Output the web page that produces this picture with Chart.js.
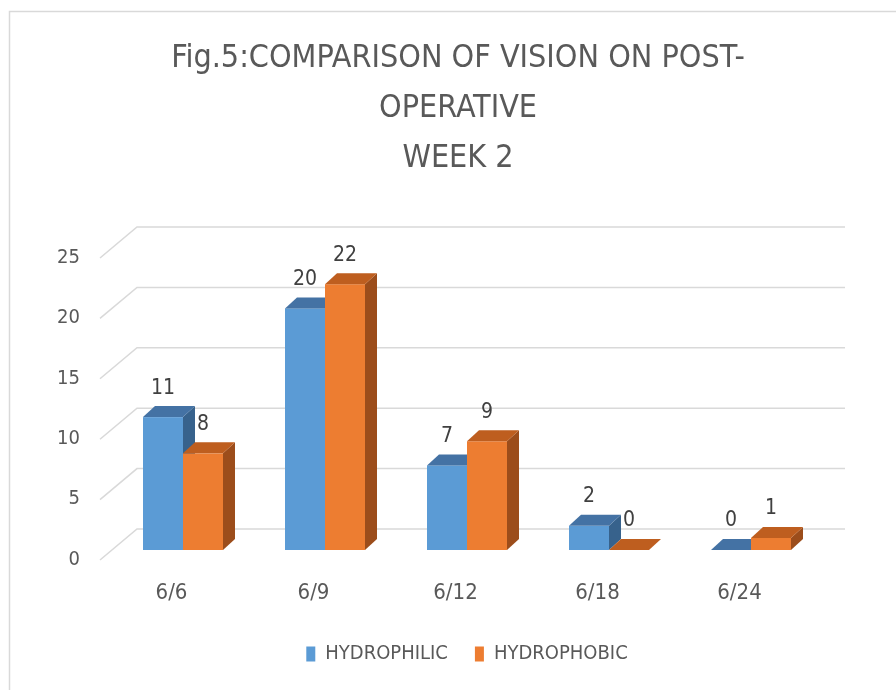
<!DOCTYPE html>
<html>
<head>
<meta charset="utf-8">
<script src="https://cdn.jsdelivr.net/npm/chart.js@4.4.0/dist/chart.umd.min.js"></script>
<style>
html,body{margin:0;padding:0;background:#fff;}
#wrap{width:896px;height:690px;position:relative;}
</style>
</head>
<body>
<div id="wrap"><canvas id="c" width="896" height="690"></canvas></div>
<script>
// ---- data ----
const categories = ['6/6', '6/9', '6/12', '6/18', '6/24'];
const hydrophilic = [11, 20, 7, 2, 0];
const hydrophobic = [8, 22, 9, 0, 1];
const seriesNames = ['HYDROPHILIC', 'HYDROPHOBIC'];
const titleLines = ['Fig.5:COMPARISON OF VISION ON POST-', 'OPERATIVE', 'WEEK 2'];
const yMin = 0, yMax = 25, yStep = 5;

// ---- style ----
const FONT = "'Liberation Sans Narrow', 'Arial Narrow', 'DejaVu Sans Condensed', sans-serif";
const TXT = '#595959';
const DX = 12, DY = -11;
const faces = [
  {front: '#5B9BD5', top: '#4472A4', side: '#37628C'},
  {front: '#ED7D31', top: '#BE5E1F', side: '#9C4D1B'}
];

function poly(ctx, pts, color) {
  ctx.beginPath();
  ctx.moveTo(pts[0][0], pts[0][1]);
  for (let i = 1; i < pts.length; i++) ctx.lineTo(pts[i][0], pts[i][1]);
  ctx.closePath();
  ctx.fillStyle = color;
  ctx.fill();
}

const bar3d = {
  id: 'bar3d',
  beforeDraw(chart) {
    const ctx = chart.ctx;
    ctx.save();
    ctx.fillStyle = '#ffffff';
    ctx.fillRect(0, 0, chart.width, chart.height);
    ctx.strokeStyle = '#D9D9D9';
    ctx.lineWidth = 1.5;
    ctx.beginPath();
    ctx.moveTo(9.5, chart.height);
    ctx.lineTo(9.5, 11.5);
    ctx.lineTo(chart.width, 11.5);
    ctx.stroke();
    ctx.restore();
  },
  beforeDatasetsDraw(chart) {
    const ctx = chart.ctx;
    const ys = chart.scales.y;
    const area = chart.chartArea;
    ctx.save();
    // 3D back wall gridlines
    ctx.strokeStyle = '#D9D9D9';
    ctx.lineWidth = 1.5;
    ys.ticks.forEach(t => {
      const py = ys.getPixelForValue(t.value);
      ctx.beginPath();
      ctx.moveTo(area.left - 12, py + 10);
      ctx.lineTo(area.left + 25, py - 21);
      ctx.lineTo(area.right + 23, py - 21);
      ctx.stroke();
    });
    // bars
    const metas = chart.data.datasets.map((d, i) => chart.getDatasetMeta(i));
    const labels = [];
    for (let i = 0; i < categories.length; i++) {
      metas.forEach((m, d) => {
        const el = m.data[i];
        const p = el.getProps(['x', 'y', 'base', 'width'], true);
        const xl = p.x - p.width / 2, xr = p.x + p.width / 2;
        const yt = Math.min(p.y, p.base), yb = Math.max(p.y, p.base);
        const f = faces[d];
        if (yb - yt > 0) {
          ctx.fillStyle = f.front;
          ctx.fillRect(xl, yt, xr - xl, yb - yt);
          poly(ctx, [[xr, yt], [xr + DX, yt + DY], [xr + DX, yb + DY], [xr, yb]], f.side);
        }
        poly(ctx, [[xl, yt], [xl + DX, yt + DY], [xr + DX, yt + DY], [xr, yt]], f.top);
        labels.push({x: p.x, y: yt - 29, v: chart.data.datasets[d].data[i]});
      });
    }
    // value labels
    ctx.fillStyle = '#404040';
    ctx.font = '21px ' + FONT;
    ctx.textAlign = 'center';
    ctx.textBaseline = 'middle';
    labels.forEach(l => ctx.fillText(String(l.v), l.x, l.y));
    ctx.restore();
    return false;
  }
};

Chart.defaults.font.family = FONT;
Chart.defaults.color = TXT;

new Chart(document.getElementById('c'), {
  type: 'bar',
  data: {
    labels: categories,
    datasets: [
      {label: seriesNames[0], data: hydrophilic, backgroundColor: faces[0].front, borderWidth: 0},
      {label: seriesNames[1], data: hydrophobic, backgroundColor: faces[1].front, borderWidth: 0}
    ]
  },
  options: {
    responsive: false,
    animation: false,
    events: [],
    categoryPercentage: 0.5634,
    barPercentage: 1,
    layout: {padding: {left: 30, right: 10, top: 0, bottom: 16}},
    plugins: {
      tooltip: {enabled: false},
      title: {
        display: true,
        text: titleLines,
        color: TXT,
        font: {family: FONT, size: 32, weight: 'normal', lineHeight: 50 / 32},
        padding: {top: 34, bottom: 64}
      },
      legend: {
        position: 'bottom',
        fullSize: false,
        labels: {
          color: TXT,
          font: {family: FONT, size: 20},
          boxWidth: 9,
          boxHeight: 15,
          padding: 27
        }
      }
    },
    scales: {
      x: {
        grid: {display: false, drawTicks: false},
        border: {display: false},
        ticks: {
          color: TXT, font: {family: FONT, size: 22},
          padding: 30, labelOffset: -11.5, maxRotation: 0, autoSkip: false
        },
        afterFit(s) { s.height = 67; }
      },
      y: {
        min: yMin, max: yMax,
        grid: {display: false, drawTicks: false},
        border: {display: false},
        ticks: {
          stepSize: yStep, color: TXT, font: {family: FONT, size: 20},
          padding: 32, labelOffset: 9.5
        },
        afterFit(s) { s.width = 82; }
      },
      y2: {
        position: 'right',
        min: yMin, max: yMax,
        grid: {display: false, drawTicks: false},
        border: {display: false},
        ticks: {display: false},
        afterFit(s) { s.width = 64; }
      }
    }
  },
  plugins: [bar3d]
});
</script>
</body>
</html>
